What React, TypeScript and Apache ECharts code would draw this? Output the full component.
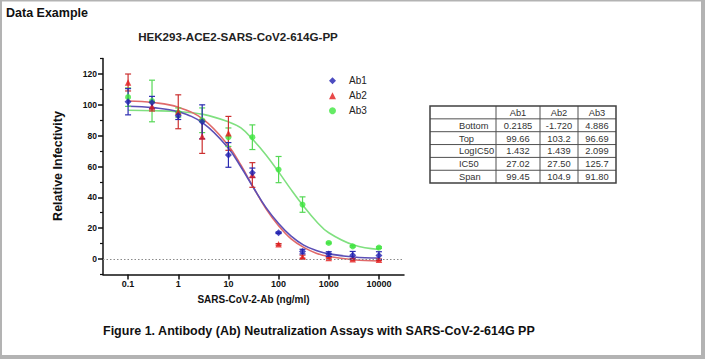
import React, { useEffect, useRef } from 'react';
import * as echarts from 'echarts';

// ---------- data ----------
const doses = [0.1, 0.3, 1, 3, 10, 30, 100, 300, 1000, 3000, 10000];

const ab1Mean = [102, 101.5, 93, 89, 67.5, 56, 17, 4.8, 3.2, 2.4, 2.2];
const ab1Err = [8.5, 4, 2.5, 11, 8, 3, 0.5, 1.5, 1.5, 2.5, 2.5];
const ab2Mean = [114.5, 99, 95.5, 79.5, 81.5, 54.5, 9.5, 1.5, 0.6, -0.2, -0.5];
const ab2Err = [5.5, 3, 11, 11, 11, 8, 0.5, 1, 0.5, 0.5, 0.5];
const ab3Mean = [105, 102.5, 95, 90, 79, 79, 58, 35.3, 10.4, 8.2, 7.4];
const ab3Err = [6, 13.5, 3, 8, 6, 8, 8.5, 5, 0.5, 0.5, 0.5];

// fitted curves (x in log10 dose)
const curveLogDose = [-1, -0.5, 0, 0.5, 1, 1.25, 1.5, 1.75, 2, 2.25, 2.5, 2.75, 3, 3.5, 4];
const ab1Curve = [99.1, 98.2, 95.5, 88, 71.8, 59.7, 46.2, 33.3, 23, 14.8, 9, 5.5, 3.3, 1.3, 0.6];
const ab2Curve = [102.5, 101.5, 98.5, 90.5, 73.5, 60.8, 46.3, 32.5, 21.5, 13, 7.5, 3.8, 1.6, -0.5, -1.3];
const ab3Curve = [96.5, 96.2, 95.6, 93.8, 89, 85, 77, 67.5, 56.5, 45, 34.2, 24.5, 17, 9, 6.2];

const xTickLogs = [-1, 0, 1, 2, 3, 4];
const xTickLabels = ['0.1', '1', '10', '100', '1000', '10000'];
const yTickValues = [0, 20, 40, 60, 80, 100, 120];
const yMinorTicks = [-10, 10, 30, 50, 70, 90, 110, 130];

const tableHeader = ['', 'Ab1', 'Ab2', 'Ab3'];
const tableRowLabels = ['Bottom', 'Top', 'LogIC50', 'IC50', 'Span'];
const tableAb1 = ['0.2185', '99.66', '1.432', '27.02', '99.45'];
const tableAb2 = ['-1.720', '103.2', '1.439', '27.50', '104.9'];
const tableAb3 = ['4.886', '96.69', '2.099', '125.7', '91.80'];

const FONT = '"Liberation Sans", Arial, sans-serif';

const seriesDefs = [
  { name: 'Ab1', mean: ab1Mean, err: ab1Err, curve: ab1Curve, marker: '#1f1fb0', curveColor: '#5b4fb6', barColor: '#2a2ab0', symbol: 'diamond', size: 7 },
  { name: 'Ab2', mean: ab2Mean, err: ab2Err, curve: ab2Curve, marker: '#e21c1c', curveColor: '#e06a6a', barColor: '#cc3030', symbol: 'triangle', size: 6.5 },
  { name: 'Ab3', mean: ab3Mean, err: ab3Err, curve: ab3Curve, marker: '#3ee63e', curveColor: '#80e080', barColor: '#55d855', symbol: 'circle', size: 6 },
];

function buildTable(): any[] {
  const colX = [430, 496, 540, 578, 616];
  const top = 106;
  const rowH = 12.85;
  const nRows = tableRowLabels.length + 1;
  const els: any[] = [];
  const stroke = '#505050';
  for (let i = 1; i < nRows; i++) {
    const y = top + i * rowH;
    els.push({ type: 'line', shape: { x1: colX[0], y1: y, x2: colX[4], y2: y }, style: { stroke, lineWidth: 1 } });
  }
  for (let j = 1; j < 4; j++) {
    els.push({ type: 'line', shape: { x1: colX[j], y1: top, x2: colX[j], y2: top + nRows * rowH }, style: { stroke, lineWidth: 1 } });
  }
  els.push({ type: 'rect', shape: { x: colX[0], y: top, width: colX[4] - colX[0], height: nRows * rowH }, style: { fill: 'none', stroke: '#404040', lineWidth: 1.5 } });
  const txt = (text: string, x: number, y: number, align: string) => ({
    type: 'text',
    style: { text, x, y, fill: '#333', font: `9.3px ${FONT}`, textAlign: align, textVerticalAlign: 'middle' },
  });
  for (let j = 1; j < 4; j++) {
    els.push(txt(tableHeader[j], (colX[j] + colX[j + 1]) / 2, top + rowH / 2 + 0.5, 'center'));
  }
  const cols = [tableAb1, tableAb2, tableAb3];
  tableRowLabels.forEach((lab, i) => {
    const cy = top + (i + 1.5) * rowH + 0.5;
    els.push(txt(lab, 459, cy, 'left'));
    cols.forEach((c, j) => els.push(txt(c[i], (colX[j + 1] + colX[j + 2]) / 2, cy, 'center')));
  });
  return els;
}

export default function App() {
  const ref = useRef<HTMLDivElement>(null);
  useEffect(() => {
    if (!ref.current) return;
    const chart = echarts.init(ref.current, undefined, { renderer: 'svg' });
    const series: any[] = [];
    // zero line
    series.push({
      type: 'line',
      name: 'zero',
      data: [],
      silent: true,
      markLine: {
        silent: true,
        symbol: 'none',
        label: { show: false },
        lineStyle: { type: [1.5, 2], color: '#8a8a8a', width: 1 },
        data: [{ yAxis: 0 }],
      },
    });
    [...seriesDefs].reverse().forEach((d) => {
      series.push({
        type: 'line',
        name: d.name + ' fit',
        data: curveLogDose.map((x, i) => [x, d.curve[i]]),
        smooth: 0.4,
        symbol: 'none',
        lineStyle: { color: d.curveColor, width: 1.6 },
        z: 2,
      });
    });
    [...seriesDefs].reverse().forEach((d) => {
      series.push({
        type: 'custom',
        name: d.name + ' err',
        data: doses.map((x, i) => [Math.log10(x), d.mean[i] - d.err[i], d.mean[i] + d.err[i]]),
        encode: { x: 0, y: [1, 2] },
        z: 3,
        renderItem: (params: any, api: any) => {
          const x = api.value(0);
          const pHi = api.coord([x, api.value(2)]);
          const pLo = api.coord([x, api.value(1)]);
          const w = 3;
          const st = { stroke: d.barColor, lineWidth: 1.2 };
          return {
            type: 'group',
            children: [
              { type: 'line', shape: { x1: pHi[0], y1: pHi[1], x2: pLo[0], y2: pLo[1] }, style: st },
              { type: 'line', shape: { x1: pHi[0] - w, y1: pHi[1], x2: pHi[0] + w, y2: pHi[1] }, style: st },
              { type: 'line', shape: { x1: pLo[0] - w, y1: pLo[1], x2: pLo[0] + w, y2: pLo[1] }, style: st },
            ],
          };
        },
      });
    });
    [...seriesDefs].reverse().forEach((d) => {
      series.push({
        type: 'scatter',
        name: d.name,
        data: doses.map((x, i) => [Math.log10(x), d.mean[i]]),
        symbol: d.symbol,
        symbolSize: d.size,
        itemStyle: { color: d.marker },
        z: 4,
      });
    });

    const option: any = {
      animation: false,
      backgroundColor: '#ffffff',
      textStyle: { fontFamily: FONT },
      grid: { left: 103, right: 301, top: 58.6, bottom: 84.6, containLabel: false },
      legend: {
        orient: 'vertical',
        left: 329,
        top: 74.7,
        padding: 0,
        itemWidth: 7,
        itemHeight: 7,
        itemGap: 3,
        textStyle: { fontSize: 10, color: '#222', fontFamily: FONT, lineHeight: 12, padding: [0, 0, 0, 8] },
        data: seriesDefs.map((d) => ({ name: d.name, icon: d.symbol, itemStyle: { color: d.marker } })),
      },
      xAxis: {
        type: 'value',
        min: -1.5,
        max: 4.5,
        splitLine: { show: false },
        axisLine: { onZero: false, lineStyle: { color: '#111', width: 1.5 } },
        axisTick: { customValues: xTickLogs, length: 5, lineStyle: { color: '#111', width: 1.5 } },
        axisLabel: {
          customValues: xTickLogs,
          margin: 5,
          fontSize: 9,
          fontWeight: 'bold',
          color: '#111',
          fontFamily: FONT,
          formatter: (v: number) => {
            const i = xTickLogs.findIndex((t) => Math.abs(t - v) < 1e-6);
            return i >= 0 ? xTickLabels[i] : '';
          },
        },
      },
      yAxis: [
        {
          type: 'value',
          min: -10,
          max: 130,
          splitLine: { show: false },
          axisLine: { show: true, onZero: false, lineStyle: { color: '#111', width: 1.5 } },
          axisTick: { customValues: yTickValues, length: 5, lineStyle: { color: '#111', width: 1.5 } },
          axisLabel: { customValues: yTickValues, margin: 6, fontSize: 8.5, fontWeight: 'bold', color: '#111', fontFamily: FONT },
        },
        {
          type: 'value',
          min: -10,
          max: 130,
          position: 'left',
          splitLine: { show: false },
          axisLine: { show: false, onZero: false },
          axisTick: { customValues: yMinorTicks, length: 3, lineStyle: { color: '#111', width: 1.2 } },
          axisLabel: { show: false },
        },
      ],
      graphic: [
        { type: 'rect', shape: { x: 0, y: 0, width: 2, height: 359 }, style: { fill: '#b3b3b3' } },
        { type: 'rect', shape: { x: 0, y: 0, width: 705, height: 1.5 }, style: { fill: '#b3b3b3' } },
        { type: 'rect', shape: { x: 701, y: 0, width: 4, height: 359 }, style: { fill: '#b3b3b3' } },
        { type: 'rect', shape: { x: 0, y: 355, width: 705, height: 4 }, style: { fill: '#b3b3b3' } },
        { type: 'text', style: { text: 'Data Example', x: 6, y: 13, fill: '#111', font: `bold 12.5px ${FONT}`, textAlign: 'left', textVerticalAlign: 'middle' } },
        { type: 'text', style: { text: 'HEK293-ACE2-SARS-CoV2-614G-PP', x: 238, y: 36, fill: '#222', font: `bold 11.6px ${FONT}`, textAlign: 'center', textVerticalAlign: 'middle' } },
        { type: 'text', x: 58, y: 166, rotation: Math.PI / 2, style: { text: 'Relative Infectivity', x: 0, y: 0, fill: '#111', font: `bold 12.5px ${FONT}`, textAlign: 'center', textVerticalAlign: 'middle' } },
        { type: 'text', style: { text: 'SARS-CoV-2-Ab (ng/ml)', x: 253.5, y: 299, fill: '#111', font: `bold 10px ${FONT}`, textAlign: 'center', textVerticalAlign: 'middle' } },
        { type: 'text', style: { text: 'Figure 1. Antibody (Ab) Neutralization Assays with SARS-CoV-2-614G PP', x: 103, y: 331, fill: '#111', font: `bold 12.5px ${FONT}`, textAlign: 'left', textVerticalAlign: 'middle' } },
        ...buildTable(),
      ],
      series,
    };
    chart.setOption(option);
    return () => chart.dispose();
  }, []);
  return (
    <div style={{ position: 'fixed', left: 0, top: 0, width: 705, height: 359, background: '#fff' }}>
      <div ref={ref} style={{ width: 705, height: 359 }} />
    </div>
  );
}
